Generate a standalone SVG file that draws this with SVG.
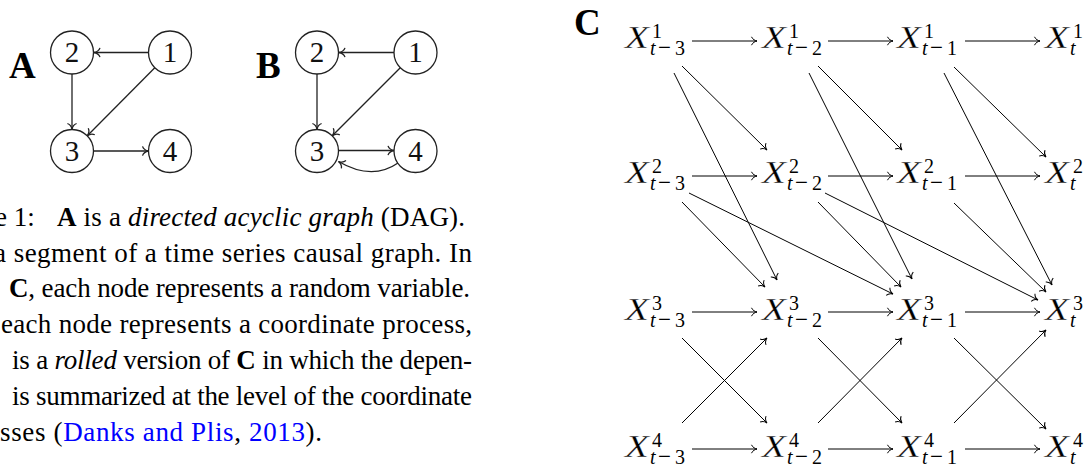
<svg xmlns="http://www.w3.org/2000/svg" width="1088" height="468" viewBox="0 0 1088 468">
<style>
.bg{fill:#fff}
.circ{fill:none;stroke:#222;stroke-width:1.3}
.num{font-family:"Liberation Serif",serif;font-size:29px;fill:#111;text-anchor:middle}
.lab{font-family:"Liberation Serif",serif;font-weight:bold;font-size:37px;fill:#000}
.cap{font-family:"Liberation Serif",serif;font-size:27px;fill:#000}
.b{font-weight:bold}
.i{font-style:italic}
.link{fill:#0000ff}
.mx{font-family:"Liberation Serif",serif;font-style:italic;font-size:31px;fill:#000;stroke:#fff;stroke-width:0.3px}
.ms{font-family:"Liberation Serif",serif;font-size:20px;fill:#000}
.ed{fill:none;stroke:#000;stroke-width:1;marker-end:url(#to)}
.eg{fill:none;stroke:#222;stroke-width:1.3;marker-end:url(#toA)}
</style>
<defs>
<marker id="to" markerUnits="userSpaceOnUse" markerWidth="20" markerHeight="20" refX="0" refY="0" orient="auto" overflow="visible">
<path d="M-5.5,-4.2 C-4.5,-1.6 -1.6,-0.3 0,0 C-1.6,0.3 -4.5,1.6 -5.5,4.2" fill="none" stroke="#000" stroke-width="1"/>
</marker>
<marker id="toA" markerUnits="userSpaceOnUse" markerWidth="20" markerHeight="20" refX="0" refY="0" orient="auto" overflow="visible">
<path d="M-6,-4.6 C-5,-1.8 -1.8,-0.3 0,0 C-1.8,0.3 -5,1.8 -6,4.6" fill="none" stroke="#222" stroke-width="1.3"/>
</marker>
</defs>
<rect class="bg" x="0" y="0" width="1088" height="468"/>

<!-- Graph A -->
<text class="lab" x="9" y="78">A</text>
<g id="A-n2"><circle class="circ" cx="72" cy="52.5" r="21.5"/><text class="num" x="72" y="62">2</text></g>
<g id="A-n1"><circle class="circ" cx="170" cy="52.5" r="21.5"/><text class="num" x="170" y="62">1</text></g>
<g id="A-n3"><circle class="circ" cx="72" cy="151" r="21.5"/><text class="num" x="72" y="161">3</text></g>
<g id="A-n4"><circle class="circ" cx="170" cy="151" r="21.5"/><text class="num" x="170" y="161">4</text></g>
<g id="A-edges">
<path class="eg" d="M148.5,52.5 L94,52.5"/>
<path class="eg" d="M72,74 L72,129.5"/>
<path class="eg" d="M154.8,67.7 L87.3,135.8"/>
<path class="eg" d="M93.5,151 L148.5,151"/>
</g>

<!-- Graph B -->
<text class="lab" x="256" y="78">B</text>
<g id="B-n2"><circle class="circ" cx="317" cy="52.5" r="21.5"/><text class="num" x="317" y="62">2</text></g>
<g id="B-n1"><circle class="circ" cx="415.5" cy="52.5" r="21.5"/><text class="num" x="415.5" y="62">1</text></g>
<g id="B-n3"><circle class="circ" cx="317" cy="151" r="21.5"/><text class="num" x="317" y="161">3</text></g>
<g id="B-n4"><circle class="circ" cx="415.5" cy="151" r="21.5"/><text class="num" x="415.5" y="161">4</text></g>
<g id="B-edges">
<path class="eg" d="M394,52.5 L339,52.5"/>
<path class="eg" d="M317,74 L317,129.5"/>
<path class="eg" d="M400.3,67.7 L332.3,135.8"/>
<path class="eg" d="M338.5,150.5 L394,150.5"/>
<path class="eg" d="M398,163 Q372,181 338.5,161.5"/>
</g>

<!-- Caption -->
<g id="caption">
<text class="cap" x="-5" y="226">e 1:</text>
<text class="cap" x="57" y="226" textLength="408" lengthAdjust="spacing"><tspan class="b">A</tspan> is a <tspan class="i">directed acyclic graph</tspan> (DAG).</text>
<text class="cap" x="-6" y="261.5" textLength="478" lengthAdjust="spacing">a segment of a time series causal graph.  In</text>
<text class="cap" x="9" y="297" textLength="461" lengthAdjust="spacing"><tspan class="b">C</tspan>, each node represents a random variable.</text>
<text class="cap" x="1" y="333" textLength="471" lengthAdjust="spacing">each node represents a coordinate process,</text>
<text class="cap" x="12" y="369" textLength="460" lengthAdjust="spacing">is a <tspan class="i">rolled</tspan> version of <tspan class="b">C</tspan> in which the depen-</text>
<text class="cap" x="12" y="405" textLength="460" lengthAdjust="spacing">is summarized at the level of the coordinate</text>
<text class="cap" x="0" y="441" textLength="322" lengthAdjust="spacing">sses (<tspan class="link">Danks and Plis</tspan>, <tspan class="link">2013</tspan>).</text>
</g>

<!-- Graph C -->
<text class="lab" x="574" y="35" font-size="35">C</text>

<g id="x1_tm3" transform="translate(625,48)"><text class="mx" x="0" y="0" textLength="24" lengthAdjust="spacingAndGlyphs">X</text><text class="ms" x="27" y="-10">1</text><text class="ms" y="7"><tspan x="25" class="i">t</tspan><tspan x="33" font-size="23">−</tspan><tspan x="50">3</tspan></text></g>
<g id="x1_tm2" transform="translate(762,48)"><text class="mx" x="0" y="0" textLength="24" lengthAdjust="spacingAndGlyphs">X</text><text class="ms" x="27" y="-10">1</text><text class="ms" y="7"><tspan x="25" class="i">t</tspan><tspan x="33" font-size="23">−</tspan><tspan x="50">2</tspan></text></g>
<g id="x1_tm1" transform="translate(897,48)"><text class="mx" x="0" y="0" textLength="24" lengthAdjust="spacingAndGlyphs">X</text><text class="ms" x="27" y="-10">1</text><text class="ms" y="7"><tspan x="25" class="i">t</tspan><tspan x="33" font-size="23">−</tspan><tspan x="50">1</tspan></text></g>
<g id="x1_t" transform="translate(1045,48)"><text class="mx" x="0" y="0" textLength="24" lengthAdjust="spacingAndGlyphs">X</text><text class="ms" x="28" y="-10">1</text><text class="ms i" x="25" y="7">t</text></g>

<g id="x2_tm3" transform="translate(625,183)"><text class="mx" x="0" y="0" textLength="24" lengthAdjust="spacingAndGlyphs">X</text><text class="ms" x="27" y="-10">2</text><text class="ms" y="7"><tspan x="25" class="i">t</tspan><tspan x="33" font-size="23">−</tspan><tspan x="50">3</tspan></text></g>
<g id="x2_tm2" transform="translate(762,183)"><text class="mx" x="0" y="0" textLength="24" lengthAdjust="spacingAndGlyphs">X</text><text class="ms" x="27" y="-10">2</text><text class="ms" y="7"><tspan x="25" class="i">t</tspan><tspan x="33" font-size="23">−</tspan><tspan x="50">2</tspan></text></g>
<g id="x2_tm1" transform="translate(897,183)"><text class="mx" x="0" y="0" textLength="24" lengthAdjust="spacingAndGlyphs">X</text><text class="ms" x="27" y="-10">2</text><text class="ms" y="7"><tspan x="25" class="i">t</tspan><tspan x="33" font-size="23">−</tspan><tspan x="50">1</tspan></text></g>
<g id="x2_t" transform="translate(1045,183)"><text class="mx" x="0" y="0" textLength="24" lengthAdjust="spacingAndGlyphs">X</text><text class="ms" x="28" y="-10">2</text><text class="ms i" x="25" y="7">t</text></g>

<g id="x3_tm3" transform="translate(625,320)"><text class="mx" x="0" y="0" textLength="24" lengthAdjust="spacingAndGlyphs">X</text><text class="ms" x="27" y="-10">3</text><text class="ms" y="7"><tspan x="25" class="i">t</tspan><tspan x="33" font-size="23">−</tspan><tspan x="50">3</tspan></text></g>
<g id="x3_tm2" transform="translate(762,320)"><text class="mx" x="0" y="0" textLength="24" lengthAdjust="spacingAndGlyphs">X</text><text class="ms" x="27" y="-10">3</text><text class="ms" y="7"><tspan x="25" class="i">t</tspan><tspan x="33" font-size="23">−</tspan><tspan x="50">2</tspan></text></g>
<g id="x3_tm1" transform="translate(897,320)"><text class="mx" x="0" y="0" textLength="24" lengthAdjust="spacingAndGlyphs">X</text><text class="ms" x="27" y="-10">3</text><text class="ms" y="7"><tspan x="25" class="i">t</tspan><tspan x="33" font-size="23">−</tspan><tspan x="50">1</tspan></text></g>
<g id="x3_t" transform="translate(1045,320)"><text class="mx" x="0" y="0" textLength="24" lengthAdjust="spacingAndGlyphs">X</text><text class="ms" x="28" y="-10">3</text><text class="ms i" x="25" y="7">t</text></g>

<g id="x4_tm3" transform="translate(625,457)"><text class="mx" x="0" y="0" textLength="24" lengthAdjust="spacingAndGlyphs">X</text><text class="ms" x="27" y="-10">4</text><text class="ms" y="7"><tspan x="25" class="i">t</tspan><tspan x="33" font-size="23">−</tspan><tspan x="50">3</tspan></text></g>
<g id="x4_tm2" transform="translate(762,457)"><text class="mx" x="0" y="0" textLength="24" lengthAdjust="spacingAndGlyphs">X</text><text class="ms" x="27" y="-10">4</text><text class="ms" y="7"><tspan x="25" class="i">t</tspan><tspan x="33" font-size="23">−</tspan><tspan x="50">2</tspan></text></g>
<g id="x4_tm1" transform="translate(897,457)"><text class="mx" x="0" y="0" textLength="24" lengthAdjust="spacingAndGlyphs">X</text><text class="ms" x="27" y="-10">4</text><text class="ms" y="7"><tspan x="25" class="i">t</tspan><tspan x="33" font-size="23">−</tspan><tspan x="50">1</tspan></text></g>
<g id="x4_t" transform="translate(1045,457)"><text class="mx" x="0" y="0" textLength="24" lengthAdjust="spacingAndGlyphs">X</text><text class="ms" x="28" y="-10">4</text><text class="ms i" x="25" y="7">t</text></g>

<g id="C-edges">
<path class="ed" d="M692,41 L757,41"/>
<path class="ed" d="M828,41 L893,41"/>
<path class="ed" d="M965,41 L1040,41"/>
<path class="ed" d="M692,176 L757,176"/>
<path class="ed" d="M828,176 L893,176"/>
<path class="ed" d="M965,176 L1040,176"/>
<path class="ed" d="M692,312 L757,312"/>
<path class="ed" d="M828,312 L893,312"/>
<path class="ed" d="M965,312 L1040,312"/>
<path class="ed" d="M692,449 L757,449"/>
<path class="ed" d="M828,449 L893,449"/>
<path class="ed" d="M965,449 L1040,449"/>

<path class="ed" d="M682,66 L767,150"/>
<path class="ed" d="M674,73 L777,280"/>
<path class="ed" d="M682,202 L765,287"/>
<path class="ed" d="M689,193 L893,294"/>
<path class="ed" d="M682,338 L767,423"/>
<path class="ed" d="M682,423 L767,338"/>

<path class="ed" d="M818,66 L902,150"/>
<path class="ed" d="M809,73 L912,279"/>
<path class="ed" d="M818,202 L901,287"/>
<path class="ed" d="M825,193 L1038,300"/>
<path class="ed" d="M818,338 L902,423"/>
<path class="ed" d="M818,423 L902,338"/>

<path class="ed" d="M954,67 L1046,157"/>
<path class="ed" d="M944,73 L1052,285"/>
<path class="ed" d="M954,203 L1046,292"/>
<path class="ed" d="M954,338 L1046,429"/>
<path class="ed" d="M954,423 L1046,330"/>
</g>
</svg>
